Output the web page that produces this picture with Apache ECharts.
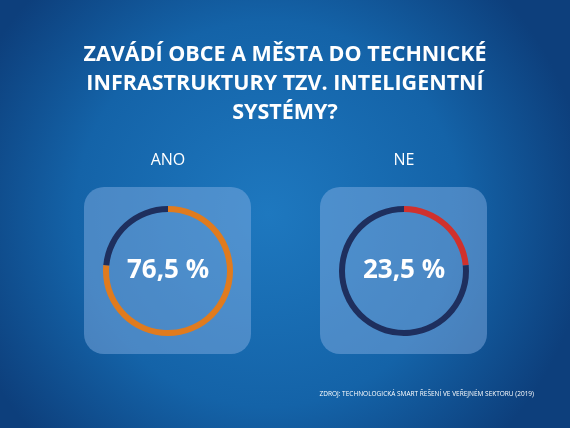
<!DOCTYPE html>
<html><head><meta charset="utf-8">
<script src="https://cdn.jsdelivr.net/npm/echarts@6/dist/echarts.min.js"></script>
<style>html,body{margin:0;padding:0}#c{width:570px;height:428px}</style>
</head><body><div id="c"></div>
<script>
const answers = ['ANO', 'NE']
const shares = [76.5, 23.5]
const labels = ['76,5 %', '23,5 %']
const accent = ['#e07b1e', '#d0312d']
const navy = '#1e2f5e'

const chart = echarts.init(document.getElementById('c'))
const centers = [[168, 271], [404, 271]]
const boxes = centers.map(c => ({
  type: 'rect', shape: { x: c[0] - 84, y: c[1] - 84, width: 167, height: 167, r: 20 },
  style: { fill: 'rgba(140,180,230,0.45)' }, z: 0
}))
const heads = centers.map((c, i) => ({
  type: 'text', x: c[0], y: 160, style: { text: answers[i], fill: '#fff', font: '16px "Open Sans"', align: 'center', verticalAlign: 'middle' }
}))
chart.setOption({
  backgroundColor: { type: 'radial', x: 0.47, y: 0.5, r: 0.75, colorStops: [{ offset: 0, color: '#1e78bf' }, { offset: 0.6, color: '#1463a8' }, { offset: 1, color: '#0d3f7c' }] },
  title: {
    text: 'ZAVÁDÍ OBCE A MĚSTA DO TECHNICKÉ\nINFRASTRUKTURY TZV. INTELIGENTNÍ\nSYSTÉMY?',
    left: 'center', top: 35,
    textStyle: { color: '#fff', fontSize: 21.5, fontWeight: 'bold', fontFamily: 'Open Sans', lineHeight: 29 }
  },
  graphic: [...boxes, ...heads, {
    type: 'text', right: 36, top: 391,
    style: { text: 'ZDROJ: TECHNOLOGICKÁ SMART ŘEŠENÍ VE VEŘEJNÉM SEKTORU (2019)', fill: '#fff', font: '6.5px "Open Sans"' }
  }],
  series: shares.map((v, i) => ({
    type: 'pie', center: centers[i], radius: [59, 65], startAngle: 90, clockwise: true,
    silent: true, z: 2,
    label: { show: true, position: 'center', formatter: labels[i], color: '#fff', fontSize: 26, fontWeight: 'bold', fontFamily: 'Open Sans' },
    labelLine: { show: false },
    data: [
      { value: v, itemStyle: { color: accent[i] } },
      { value: 100 - v, itemStyle: { color: navy }, label: { show: false } }
    ]
  }))
})
</script></body></html>
